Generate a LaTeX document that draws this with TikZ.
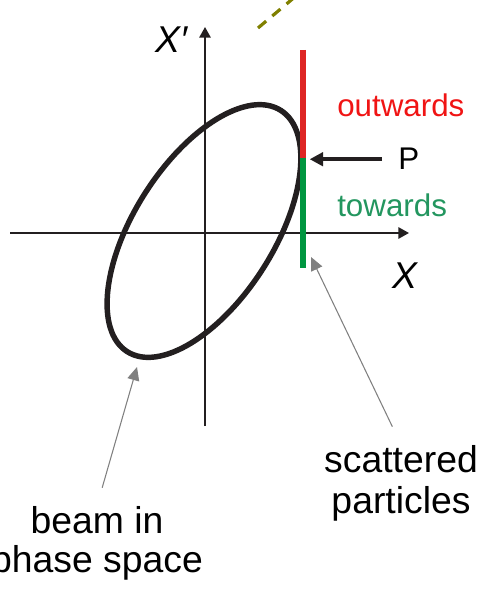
\documentclass[tikz,border=0pt]{standalone}
\usepackage{fontspec}
\setmainfont{Liberation Sans}
\usetikzlibrary{arrows.meta}
\definecolor{ink}{RGB}{35,31,32}
\definecolor{linered}{RGB}{222,38,36}
\definecolor{textred}{RGB}{240,20,20}
\definecolor{linegreen}{RGB}{0,150,64}
\definecolor{textgreen}{RGB}{35,150,95}
\definecolor{olivedash}{RGB}{128,128,0}
\definecolor{pointer}{RGB}{128,128,128}
\begin{document}
\begin{tikzpicture}[x=0.75pt,y=-0.75pt,
  axis/.style={draw=ink,line width=1.5pt,-{Triangle[length=8pt,width=8.5pt]}},
  beamellipse/.style={draw=ink,line width=4.1pt},
  lbl/.style={inner sep=0pt,font=\fontsize{23.5}{27}\selectfont},
  bigl/.style={inner sep=0pt,font=\fontsize{28}{32}\selectfont},
  axl/.style={inner sep=0pt,font=\fontsize{28}{32}\selectfont\itshape},
  parrow/.style={draw=ink,line width=2.6pt,-{Triangle[length=10pt,width=10pt]}},
  garrow/.style={draw=pointer,line width=0.8pt,-{Triangle[length=10pt,width=9pt]},color=pointer},
  seg/.style={line width=4.6pt}]
\useasboundingbox (0,0) rectangle (481,591);
% axes
\coordinate (xl) at (10,233);
\coordinate (xr) at (409,233);
\coordinate (yb) at (205,426);
\coordinate (yt) at (205,27);
\draw[axis] (xl) -- (xr);
\draw[axis] (yb) -- (yt);
% beam ellipse
\coordinate (ec) at (204,231);
\draw[beamellipse,rotate around={57.5:(ec)}] (ec) ellipse [x radius=143, y radius=70];
% scattered particles line
\coordinate (ltop) at (303,50);
\coordinate (pp) at (303,158);
\coordinate (lbot) at (303,268);
\draw[seg,draw=linered] (ltop) -- (pp);
\draw[seg,draw=linegreen] (pp) -- (lbot);
% olive dashed line
\coordinate (da) at (258,28);
\coordinate (db) at (296,-4);
\draw[olivedash,line width=2.4pt,dash pattern=on 8pt off 6pt] (da) -- (db);
% labels
\node[lbl,text=textred,anchor=base west] (out) at (337,117) {outwards};
\node[lbl,text=textgreen,anchor=base west] (tow) at (337,217) {towards};
\node[lbl,anchor=base west] (P) at (398,170) {P};
\draw[parrow,shorten <=12pt,shorten >=5pt] (P.west) -- (P.west -| pp);
\node[axl,anchor=base west] (xlab) at (392,288) {X};
\node[axl,anchor=base west] (xplab) at (155,53) {X′};
\node[bigl,anchor=base] (scatA) at (401,472) {scattered};
\node[bigl,anchor=base] (scatB) at (401,513) {particles};
\node[bigl,anchor=base] (beamA) at (97,533) {beam in};
\node[bigl,anchor=base] (beamB) at (97,572) {phase space};
% pointers
\coordinate (ebeam) at (137,367);
\coordinate (lscat) at (311,257);
\draw[garrow,shorten <=14pt] (beamA.north) -- (ebeam);
\draw[garrow,shorten <=15pt] (scatA.north) -- (lscat);
\end{tikzpicture}
\end{document}
